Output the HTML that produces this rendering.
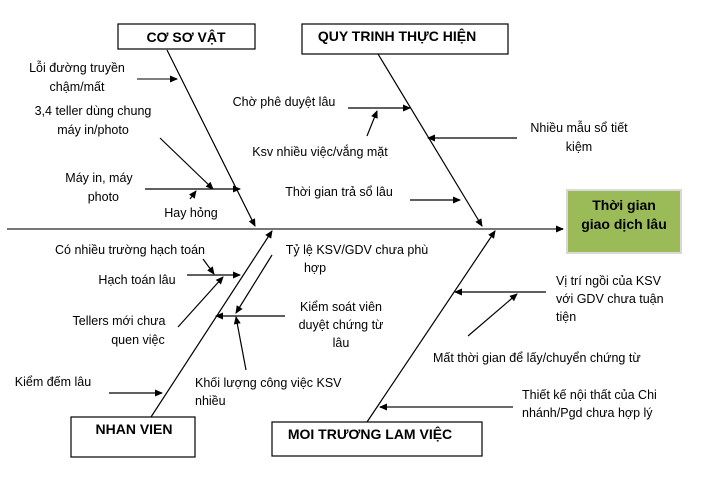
<!DOCTYPE html>
<html><head><meta charset="utf-8"><style>
html,body{margin:0;padding:0;background:#fff;}
svg text{font-family:"Liberation Sans",sans-serif;font-size:12.5px;fill:#000;}
.b{font-weight:bold;font-size:14px;}
</style></head><body>
<svg width="710" height="491" viewBox="0 0 710 491" xmlns="http://www.w3.org/2000/svg">
<defs>
<marker id="a" markerWidth="8" markerHeight="8" refX="7" refY="4" orient="auto" markerUnits="userSpaceOnUse">
<path d="M0,0.5 L8,4 L0,7.5 Z" fill="#000"/></marker>
</defs>
<g stroke="#000" stroke-width="1.2" fill="none">
<line x1="7" y1="229" x2="563" y2="229" stroke="#777" stroke-width="2" marker-end="url(#a)"/>
<line x1="167" y1="50" x2="255" y2="226" marker-end="url(#a)"/>
<line x1="378" y1="54" x2="482" y2="226" marker-end="url(#a)"/>
<line x1="151" y1="417" x2="272" y2="231" marker-end="url(#a)"/>
<line x1="367" y1="422" x2="495" y2="231" marker-end="url(#a)"/>
<line x1="137" y1="79" x2="177" y2="79" stroke="#555" stroke-width="1.6" marker-end="url(#a)"/>
<line x1="160" y1="138" x2="213" y2="189" marker-end="url(#a)"/>
<line x1="145" y1="189" x2="240" y2="189" marker-end="url(#a)"/>
<line x1="190" y1="199" x2="196" y2="191" marker-end="url(#a)"/>
<line x1="348" y1="108" x2="410" y2="108" marker-end="url(#a)"/>
<line x1="367" y1="136" x2="377" y2="111" marker-end="url(#a)"/>
<line x1="517" y1="138" x2="428" y2="138" marker-end="url(#a)"/>
<line x1="410" y1="200" x2="460" y2="200" marker-end="url(#a)"/>
<line x1="203" y1="259" x2="214" y2="274" marker-end="url(#a)"/>
<line x1="187" y1="275" x2="240" y2="275" marker-end="url(#a)"/>
<line x1="178" y1="327" x2="223" y2="277" marker-end="url(#a)"/>
<line x1="109" y1="393" x2="162" y2="393" marker-end="url(#a)"/>
<line x1="272" y1="255" x2="236" y2="313" marker-end="url(#a)"/>
<line x1="285" y1="316" x2="216" y2="316" marker-end="url(#a)"/>
<line x1="246" y1="370" x2="236" y2="317" marker-end="url(#a)"/>
<line x1="546" y1="292" x2="455" y2="292" marker-end="url(#a)"/>
<line x1="468" y1="336" x2="517" y2="294" marker-end="url(#a)"/>
<line x1="513" y1="407" x2="380" y2="407" stroke="#555" stroke-width="1.8" marker-end="url(#a)"/>
<rect x="118" y="24" width="137" height="25"/>
<rect x="302" y="24" width="206" height="30"/>
<rect x="71" y="417" width="124" height="40"/>
<rect x="272" y="422" width="210" height="34"/>
</g>
<rect x="567" y="190" width="114" height="63" fill="#9bbb59" stroke="#d9d9d9" stroke-width="2"/>
<text class="b" x="186" y="42" text-anchor="middle">CƠ SƠ VẬT</text>
<text class="b" x="397" y="41" text-anchor="middle">QUY TRINH THỰC HIỆN</text>
<text class="b" x="134" y="434" text-anchor="middle">NHAN VIEN</text>
<text class="b" x="370" y="439" text-anchor="middle">MOI TRƯƠNG LAM VIỆC</text>
<text class="b" x="624" y="210" text-anchor="middle">Thời gian</text>
<text class="b" x="624" y="229" text-anchor="middle">giao dịch lâu</text>
<g text-anchor="middle">
<text x="77" y="72">Lỗi đường truyền</text>
<text x="77" y="91">chậm/mất</text>
<text x="93" y="115">3,4 teller dùng chung</text>
<text x="93" y="134">máy in/photo</text>
<text x="99" y="182">Máy in, máy</text>
<text x="119" y="201" text-anchor="end">photo</text>
<text x="191" y="217">Hay hỏng</text>
<text x="284" y="106">Chờ phê duyệt lâu</text>
<text x="320" y="156">Ksv nhiều việc/vắng mặt</text>
<text x="579" y="132">Nhiều mẫu sổ tiết</text>
<text x="579" y="151">kiệm</text>
<text x="339" y="196">Thời gian trả sổ lâu</text>
<text x="130" y="254">Có nhiều trường hạch toán</text>
<text x="137" y="284">Hạch toán lâu</text>
<text x="119" y="325">Tellers mới chưa</text>
<text x="138" y="344">quen việc</text>
<text x="53" y="386">Kiểm đếm lâu</text>
<text x="357" y="254">Tỷ lệ KSV/GDV chưa phù</text>
<text x="315" y="272">hợp</text>
<text x="341" y="311">Kiểm soát viên</text>
<text x="341" y="329">duyệt chứng từ</text>
<text x="341" y="347">lâu</text>
</g>
<text x="195" y="387">Khối lượng công việc KSV</text>
<text x="195" y="405">nhiều</text>
<text x="556" y="285">Vị trí ngồi của KSV</text>
<text x="556" y="303">với GDV chưa tuận</text>
<text x="556" y="321">tiện</text>
<text x="433" y="362">Mất thời gian để lấy/chuyển chứng từ</text>
<text x="522" y="399">Thiết kế nội thất của Chi</text>
<text x="522" y="417">nhánh/Pgd chưa hợp lý</text>
</svg>
</body></html>
